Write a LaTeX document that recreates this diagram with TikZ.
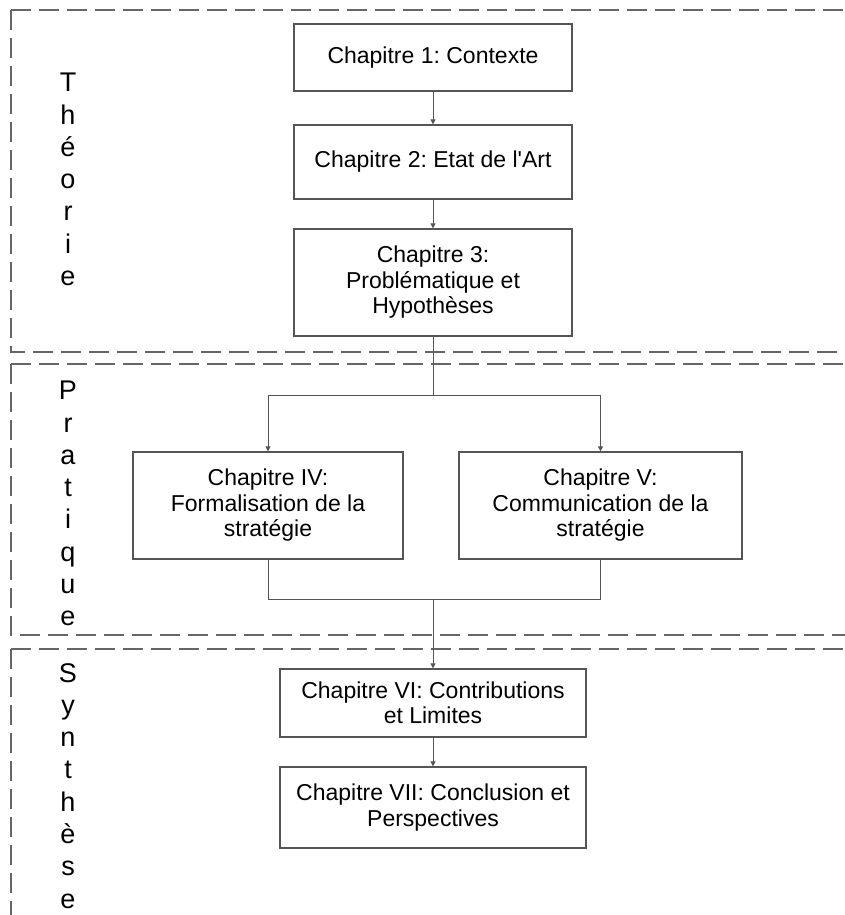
\documentclass[tikz,border=0pt]{standalone}
\usepackage{fontspec}
\setmainfont{Liberation Sans}[Ligatures=TeXOff]
\usetikzlibrary{arrows.meta}
\definecolor{lc}{HTML}{555555}
\definecolor{dc}{HTML}{666666}
\frenchspacing
\begin{document}
\begin{tikzpicture}[x=1pt,y=-1pt,
  box/.style={draw=lc,line width=1.3pt,fill=white,inner sep=0pt,align=center,font=\fontsize{23}{25.5}\selectfont\frenchspacing},
  conn/.style={draw=lc,line width=1pt},
  arr/.style={conn,-{Triangle[length=5pt,width=5pt]}},
  region/.style={draw=dc,line width=1.4pt,dash pattern=on 20pt off 8pt},
  vlabel/.style={anchor=north,inner sep=0pt,align=center,font=\fontsize{27}{32.3}\selectfont}]
\useasboundingbox (0,0) rectangle (845,915);
\fill[white] (0,0) rectangle (845,915);
% regions
\draw[region] (11,10) -- (850,10);
\draw[region] (11,10) -- (11,352) -- (850,352);
\draw[region] (11,364) -- (850,364);
\draw[region] (11,364) -- (11,635) -- (850,635);
\draw[region] (11,649) -- (850,649);
\draw[region] (11,649) -- (11,925);
% labels
\node[vlabel] (lt) at (68,73) {T\\h\\é\\o\\r\\i\\e};
\node[vlabel] (lp) at (68,381) {P\\r\\a\\t\\i\\q\\u\\e};
\node[vlabel] (ls) at (68,663) {S\\y\\n\\t\\h\\è\\s\\e};
% boxes
\node[box,minimum width=278pt,minimum height=67pt] (c1) at (433,57.5) {Chapitre 1: Contexte};
\node[box,minimum width=278pt,minimum height=74pt] (c2) at (433,162) {Chapitre 2: Etat de l'Art};
\node[box,minimum width=278pt,minimum height=107pt] (c3) at (433,282.5) {Chapitre 3:\\Problématique et\\Hypothèses};
\node[box,minimum width=270pt,minimum height=107pt] (c4) at (268,505.5) {Chapitre IV:\\Formalisation de la\\stratégie};
\node[box,minimum width=283pt,minimum height=107pt] (c5) at (600.5,505.5) {Chapitre V:\\Communication de la\\stratégie};
\node[box,minimum width=306pt,minimum height=68pt] (c6) at (433,703) {Chapitre VI: Contributions\\et Limites};
\node[box,minimum width=306pt,minimum height=81pt] (c7) at (433,807.5) {Chapitre VII: Conclusion et\\Perspectives};
% connectors
\coordinate (s1) at (433,395);
\coordinate (j4) at (268,395);
\coordinate (j5) at (600.5,395);
\coordinate (m4) at (268,599);
\coordinate (m5) at (600.5,599);
\coordinate (m) at (433,599);
\draw[arr] (c1) -- (c2);
\draw[arr] (c2) -- (c3);
\draw[conn] (c3.south) -- (s1);
\draw[conn] (j4) -- (j5);
\draw[arr] (j4) -- (c4.north);
\draw[arr] (j5) -- (c5.north);
\draw[conn] (c4.south) -- (m4) -- (m5) -- (c5.south);
\draw[arr] (m) -- (c6.north);
\draw[arr] (c6) -- (c7);
\end{tikzpicture}
\end{document}
